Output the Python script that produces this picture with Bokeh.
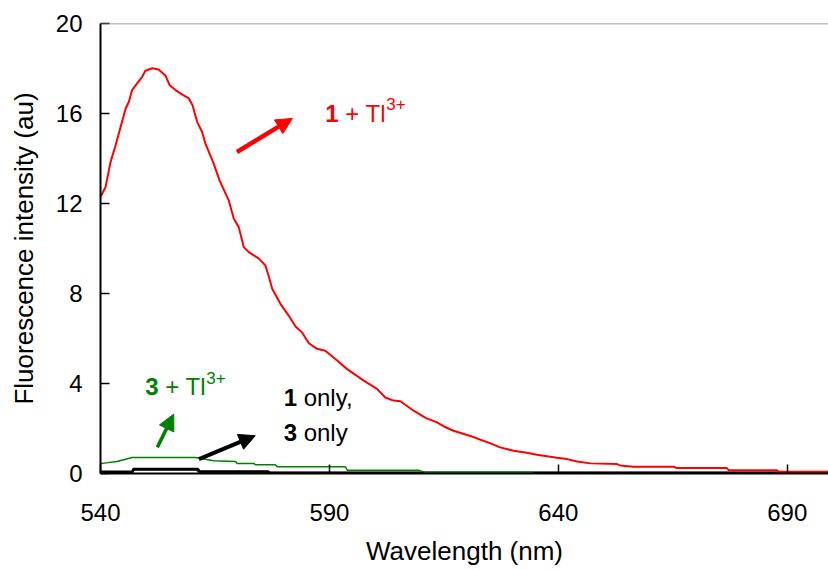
from bokeh.plotting import figure
from bokeh.models import Range1d, FixedTicker, Arrow, NormalHead, Label, Span
from bokeh.embed import file_html
from bokeh.resources import INLINE

# ---- data ----
red_wl = [540.0, 541.1, 542.2, 543.3, 544.4, 545.5, 546.2, 546.9, 548.0, 549.1, 549.8,
          551.3, 552.7, 554.2, 555.1, 556.4, 557.8, 559.3, 560.1, 561.1, 562.2, 562.9,
          564.7, 566.0, 568.0, 569.1, 570.2, 571.3, 572.4, 574.6, 576.0, 576.7, 577.5,
          579.3, 581.1, 582.6, 584.0, 585.5, 587.3, 589.1, 591.7, 593.8, 597.5, 600.4,
          602.2, 604.0, 605.5, 608.4, 611.0, 613.5, 615.0, 617.1, 620.8, 623.0, 625.2,
          627.3, 630.2, 633.1, 635.3, 637.5, 639.7, 641.9, 644.1, 647.0, 652.8, 653.5,
          656.4, 665.2, 665.9, 676.8, 677.2, 687.7, 688.1, 700.0]
red_int = [12.29, 12.73, 13.85, 14.59, 15.41, 16.22, 16.52, 17.04, 17.34, 17.63, 17.90,
           18.01, 17.96, 17.68, 17.26, 17.04, 16.85, 16.67, 16.37, 15.63, 15.18, 14.67,
           13.78, 13.03, 12.14, 11.33, 10.95, 10.06, 9.84, 9.55, 9.25, 8.80, 8.21,
           7.54, 7.02, 6.53, 6.28, 5.79, 5.54, 5.46, 5.02, 4.65, 4.13, 3.76,
           3.38, 3.24, 3.21, 2.79, 2.47, 2.27, 2.09, 1.90, 1.67, 1.50, 1.34,
           1.16, 1.01, 0.92, 0.83, 0.77, 0.70, 0.64, 0.53, 0.45, 0.42, 0.36,
           0.30, 0.30, 0.24, 0.24, 0.15, 0.15, 0.08, 0.08]

green_wl = [540.0, 540.4, 543.6, 546.9, 560.7, 564.7, 569.5, 569.8, 573.5, 573.8, 578.2,
            578.6, 593.5, 593.9, 609.5, 609.9, 611.0, 634.5]
green_int = [0.45, 0.45, 0.53, 0.71, 0.71, 0.57, 0.53, 0.45, 0.45, 0.39, 0.39,
             0.30, 0.30, 0.15, 0.15, 0.11, 0.045, 0.045]

one_wl = [540.0, 547.0, 547.2, 561.3, 561.6, 576.6, 577.0, 700.0]
one_int = [0.08, 0.08, 0.20, 0.20, 0.09, 0.09, 0.03, 0.03]

three_wl = [540.0, 547.0, 547.2, 561.0, 561.6, 576.0, 577.0, 700.0]
three_int = [0.06, 0.06, 0.17, 0.17, 0.07, 0.07, 0.02, 0.02]

x_ticks = [540, 590, 640, 690]
y_ticks = [0, 4, 8, 12, 16, 20]

FONT = "Liberation Sans"

p = figure(width=828, height=570, x_range=Range1d(540, 699), y_range=Range1d(0, 20),
           output_backend="svg", toolbar_location=None,
           min_border_left=100, min_border_right=0, min_border_top=23, min_border_bottom=97)
p.grid.visible = False
p.outline_line_color = None
p.background_fill_color = "white"
p.border_fill_color = "white"

for ax, ticks in ((p.xaxis, x_ticks), (p.yaxis, y_ticks)):
    ax.ticker = FixedTicker(ticks=ticks)
    ax.minor_tick_line_color = None
    ax.major_tick_in = 9
    ax.major_tick_out = 0
    ax.major_tick_line_width = 1.5
    ax.major_tick_line_color = "black"
    ax.axis_line_width = 2
    ax.axis_line_color = "black"
    ax.major_label_text_font = FONT
    ax.major_label_text_font_size = "24px"
    ax.major_label_text_color = "black"
    ax.axis_label_text_font = FONT
    ax.axis_label_text_font_size = "26px"
    ax.axis_label_text_font_style = "normal"
    ax.axis_label_text_color = "black"

p.xaxis.axis_label = "Wavelength (nm)"
p.yaxis.axis_label = "Fluorescence intensity (au)"
p.xaxis.major_label_standoff = 30
p.xaxis.axis_label_standoff = 12
p.yaxis.major_label_standoff = 18
p.yaxis.axis_label_standoff = 14

p.add_layout(Span(location=20, dimension="width", line_color="#7f7f7f", line_width=1.5))

p.line(three_wl, three_int, line_color="#404040", line_width=2.5)
p.line(one_wl, one_int, line_color="black", line_width=2.5)
p.line(green_wl, green_int, line_color="#008000", line_width=1.5)
p.line(red_wl, red_int, line_color="red", line_width=2)

# arrows
arrows = [
    (569.8, 14.29, 581.9, 15.78, "red", 4.5),
    (552.4, 1.16, 556.0, 2.64, "#008000", 3.5),
    (561.5, 0.64, 573.8, 1.68, "black", 4),
]
for xs, ys, xe, ye, c, w in arrows:
    p.add_layout(Arrow(x_start=xs, y_start=ys, x_end=xe, y_end=ye, line_color=c, line_width=w,
                       end=NormalHead(size=16, fill_color=c, line_color=c, line_width=1)))

def lab(x, y, text, color, bold=False, size="24px", xo=0, yo=0):
    p.add_layout(Label(x=x, y=y, text=text, text_color=color, text_font=FONT,
                       text_font_size=size, text_font_style="bold" if bold else "normal",
                       text_baseline="alphabetic", text_align="left", x_offset=xo, y_offset=yo))

# "1 + Tl3+" (red)
lab(589.1, 16.02, "1", "red", bold=True)
lab(589.1, 16.02, "+ Tl", "red", xo=20)
lab(589.1, 16.02, "3+", "red", size="17px", xo=61, yo=9)
# "3 + Tl3+" (green)
lab(549.8, 3.85, "3", "#008000", bold=True)
lab(549.8, 3.85, "+ Tl", "#008000", xo=20)
lab(549.8, 3.85, "3+", "#008000", size="17px", xo=61, yo=9)
# "1 only," / "3 only" (black)
lab(580.0, 3.38, "1", "black", bold=True)
lab(580.0, 3.38, "only,", "black", xo=20)
lab(580.0, 1.84, "3", "black", bold=True)
lab(580.0, 1.84, "only", "black", xo=20)

open("out.html", "w").write(file_html(p, INLINE))
